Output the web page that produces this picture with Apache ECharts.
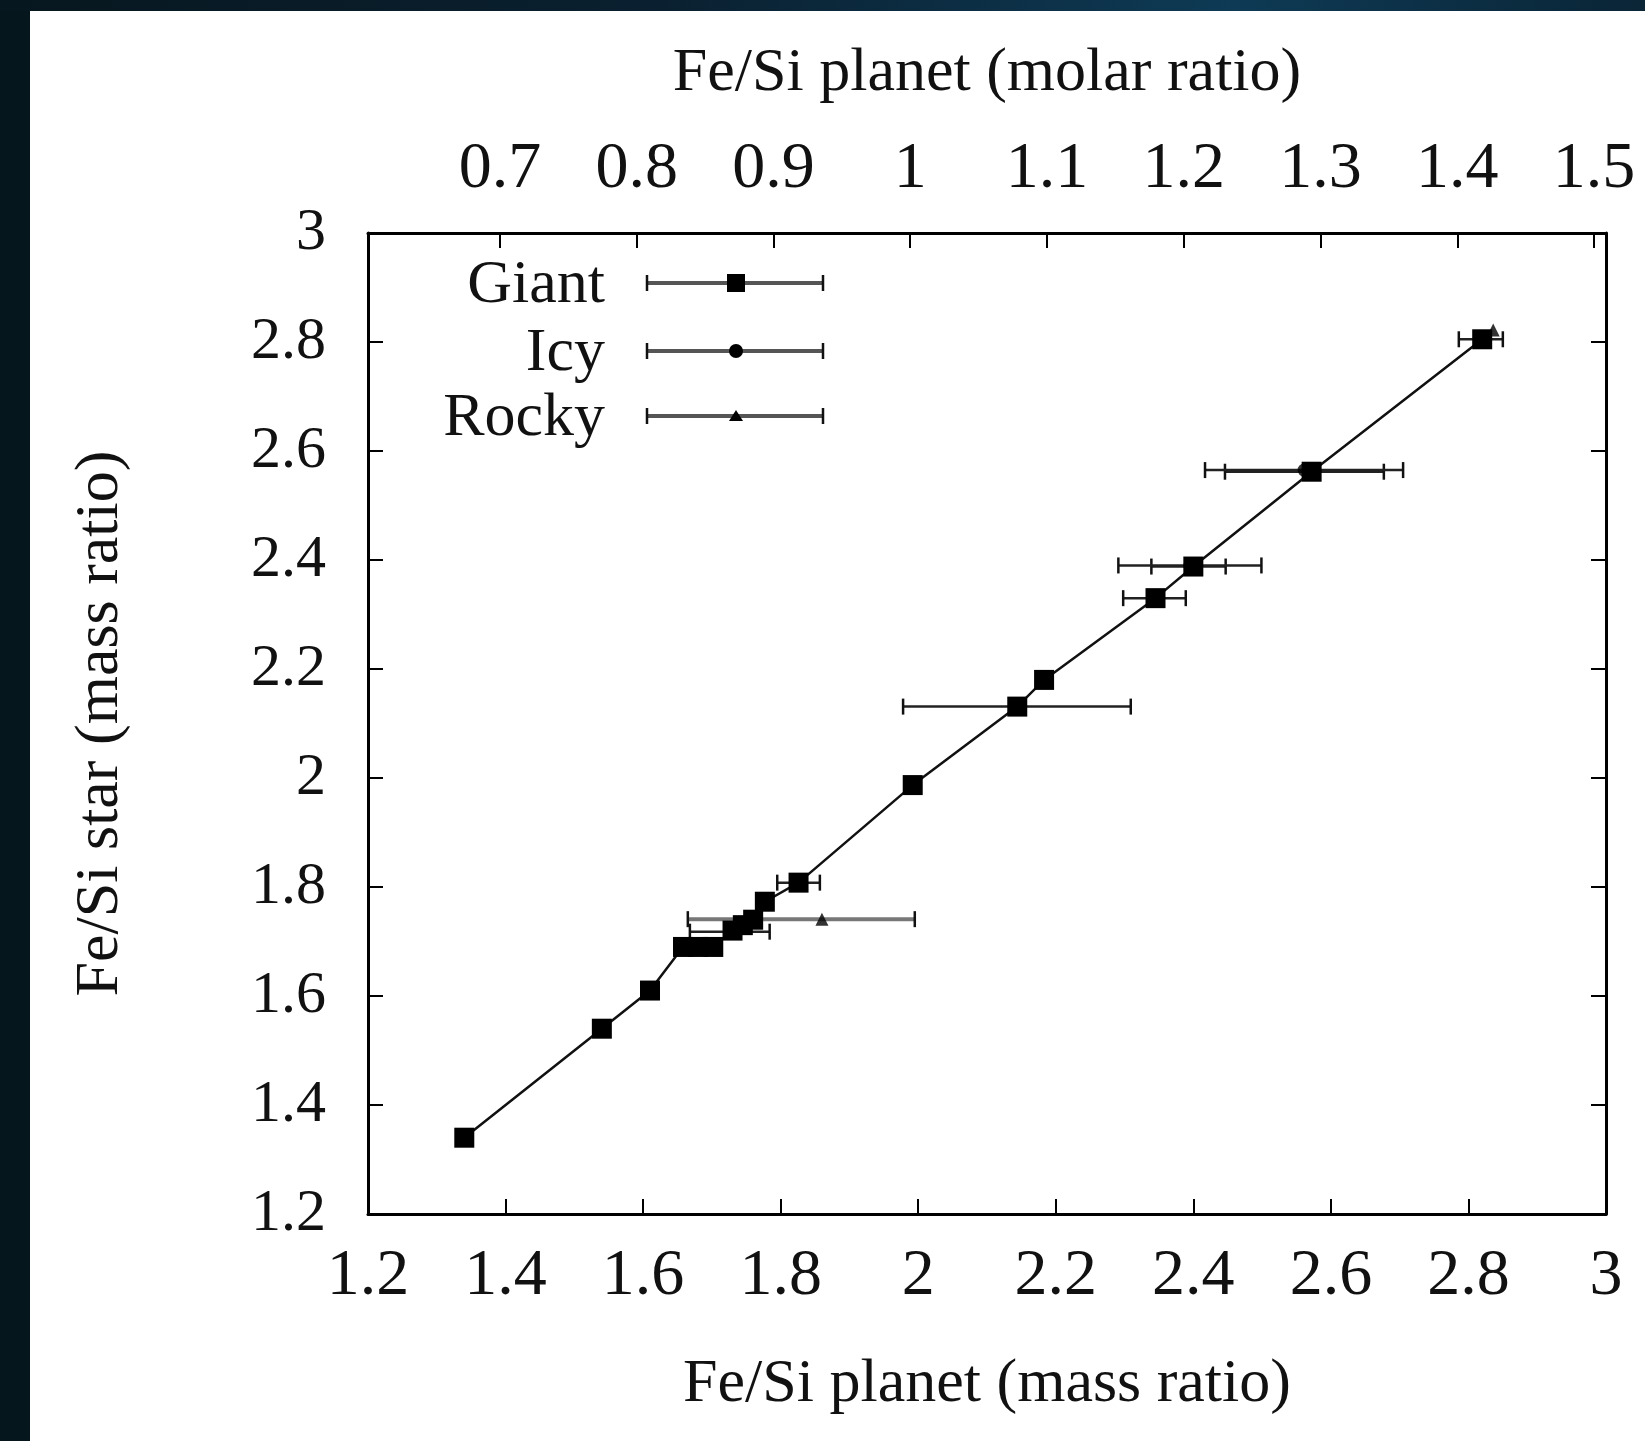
<!DOCTYPE html>
<html><head><meta charset="utf-8">
<script src="https://cdn.jsdelivr.net/npm/echarts@6/dist/echarts.min.js"></script>
<style>
html,body{margin:0;padding:0;width:1645px;height:1441px;overflow:hidden;background:#06161d;}
#topband{position:absolute;left:0;top:0;width:1645px;height:11px;background:linear-gradient(90deg,#07171f 0%,#0a2030 40%,#0e3a55 75%,#0a2536 100%);}
#panel{position:absolute;left:30px;top:11px;width:1615px;height:1430px;background:#fff;}
#chart{position:absolute;left:0;top:0;width:1645px;height:1441px;}
</style></head><body>
<div id="topband"></div><div id="panel"></div><div id="chart"></div>
<script>
// ---- data ----
const molarTicks = [0.7, 0.8, 0.9, 1.0, 1.1, 1.2, 1.3, 1.4, 1.5];
const SI_OVER_FE = 28.0855 / 55.845; // mass ratio -> molar ratio

const giantX  = [1.34, 1.54, 1.61, 1.658, 1.68, 1.702, 1.73, 1.745, 1.76, 1.777, 1.826, 1.992, 2.144, 2.183, 2.345, 2.40, 2.572, 2.82];
const giantY  = [1.34, 1.54, 1.61, 1.69, 1.69, 1.69, 1.72, 1.73, 1.74, 1.773, 1.808, 1.987, 2.131, 2.18, 2.33, 2.388, 2.562, 2.805];
const giantLo = [null, null, null, null, null, null, null, null, null, null, 1.795, null, 1.978, null, 2.298, 2.339, 2.446, 2.786];
const giantHi = [null, null, null, null, null, null, null, null, null, null, 1.857, null, 2.309, null, 2.389, 2.447, 2.677, 2.85];

const icyX  = [1.726, 2.395, 2.561];
const icyY  = [1.718, 2.39, 2.565];
const icyLo = [1.668, 2.291, 2.417];
const icyHi = [1.784, 2.499, 2.705];

const rockyX  = [1.86, 2.836];
const rockyY  = [1.741, 2.822];
const rockyLo = [1.665, null];
const rockyHi = [1.995, null];

const legendNames = ['Giant', 'Icy', 'Rocky'];
</script>
<script>
const FONT = '"Liberation Serif","Times New Roman",serif';
const chart = echarts.init(document.getElementById('chart'), null, {renderer:'canvas'});

function pairs(xs, ys){ return xs.map((x,i)=>[x, ys[i]]); }
function errRows(xs, ys, lo, hi){
  const out=[];
  xs.forEach((x,i)=>{ if(lo[i]!=null && hi[i]!=null) out.push([x, ys[i], lo[i], hi[i]]); });
  return out;
}
function errSeries(name, rows, color, width){
  return {
    type:'custom', name:name, data:rows, z:2, silent:true,
    encode:{x:[0,2,3], y:1},
    renderItem:function(params, api){
      const y=api.value(1), lo=api.value(2), hi=api.value(3);
      const p1=api.coord([lo,y]), p2=api.coord([hi,y]);
      const c=8;
      const st={stroke:color, lineWidth:width};
      return {type:'group', children:[
        {type:'line', shape:{x1:p1[0],y1:p1[1],x2:p2[0],y2:p2[1]}, style:st},
        {type:'line', shape:{x1:p1[0],y1:p1[1]-c,x2:p1[0],y2:p1[1]+c}, style:{stroke:'#111',lineWidth:2.5}},
        {type:'line', shape:{x1:p2[0],y1:p2[1]-c,x2:p2[0],y2:p2[1]+c}, style:{stroke:'#111',lineWidth:2.5}}
      ]};
    }
  };
}

const labelStyle = {fontFamily:FONT, color:'#111'};
const axisLineStyle = {show:true, lineStyle:{color:'#000', width:3}};
const tickStyle = {show:true, inside:true, length:15, lineStyle:{color:'#000', width:2}};
const fmt = v => String(Math.round(v*10)/10);

// legend layout (pixels)
const legX1=647, legX2=823, legM=736, capH=8;
const rows=[283,351,416];
const graphics=[];
rows.forEach((ry,i)=>{
  graphics.push({type:'text', x:605, y:ry+3, style:{text:legendNames[i], font:'62px '+FONT, fill:'#111', textAlign:'right', textVerticalAlign:'middle'}, z:10});
  graphics.push({type:'line', shape:{x1:legX1,y1:ry,x2:legX2,y2:ry}, style:{stroke:'#555',lineWidth:4}, z:10});
  graphics.push({type:'line', shape:{x1:legX1,y1:ry-capH,x2:legX1,y2:ry+capH}, style:{stroke:'#111',lineWidth:2.5}, z:10});
  graphics.push({type:'line', shape:{x1:legX2,y1:ry-capH,x2:legX2,y2:ry+capH}, style:{stroke:'#111',lineWidth:2.5}, z:10});
});
graphics.push({type:'rect', shape:{x:legM-9,y:rows[0]-9,width:18,height:18}, style:{fill:'#000'}, z:11});
graphics.push({type:'circle', shape:{cx:legM,cy:rows[1],r:7}, style:{fill:'#000'}, z:11});
graphics.push({type:'polygon', shape:{points:[[legM,rows[2]-6],[legM-7,rows[2]+5],[legM+7,rows[2]+5]]}, style:{fill:'#000'}, z:11});

const option = {
  backgroundColor:'transparent',
  animation:false,
  grid:{left:368, top:233, width:1238, height:981, containLabel:false},
  xAxis:[
    {type:'value', position:'bottom', min:1.2, max:3, interval:0.2,
     axisLine:axisLineStyle, axisTick:tickStyle, splitLine:{show:false},
     axisLabel:Object.assign({fontSize:66, margin:30, formatter:fmt}, labelStyle),
     name:'Fe/Si planet (mass ratio)', nameLocation:'middle', nameGap:140,
     nameTextStyle:{fontFamily:FONT, fontSize:62, color:'#111'}},
    {type:'value', position:'top', min:1.2*SI_OVER_FE, max:3*SI_OVER_FE,
     axisLine:axisLineStyle,
     axisTick:Object.assign({customValues:molarTicks}, tickStyle),
     splitLine:{show:false},
     axisLabel:Object.assign({fontSize:66, margin:30, formatter:fmt, customValues:molarTicks}, labelStyle),
     name:'Fe/Si planet (molar ratio)', nameLocation:'middle', nameGap:128,
     nameTextStyle:{fontFamily:FONT, fontSize:62, color:'#111'}}
  ],
  yAxis:[
    {type:'value', position:'left', min:1.2, max:3, interval:0.2,
     axisLine:axisLineStyle, axisTick:tickStyle, splitLine:{show:false},
     axisLabel:Object.assign({fontSize:60, margin:42, formatter:fmt}, labelStyle),
     name:'Fe/Si star (mass ratio)', nameLocation:'middle', nameGap:236, nameRotate:90,
     nameTextStyle:{fontFamily:FONT, fontSize:62, color:'#111'}},
    {type:'value', position:'right', min:1.2, max:3, interval:0.2,
     axisLine:axisLineStyle, axisTick:tickStyle, splitLine:{show:false},
     axisLabel:{show:false}}
  ],
  series:[
    errSeries('Giant err', errRows(giantX, giantY, giantLo, giantHi), '#222', 2.5),
    errSeries('Icy err', errRows(icyX, icyY, icyLo, icyHi), '#222', 2.5),
    errSeries('Rocky err', errRows(rockyX, rockyY, rockyLo, rockyHi), '#777', 4),
    {type:'line', name:'Giant', data:pairs(giantX, giantY), z:4,
     symbol:'rect', symbolSize:20, showAllSymbol:true,
     itemStyle:{color:'#000'}, lineStyle:{color:'#111', width:2.5}},
    {type:'scatter', name:'Icy', data:pairs(icyX, icyY), z:3,
     symbol:'circle', symbolSize:13, itemStyle:{color:'#000'}},
    {type:'scatter', name:'Rocky', data:pairs(rockyX, rockyY), z:3,
     symbol:'triangle', symbolSize:13, itemStyle:{color:'#000'}}
  ],
  graphic:graphics
};
chart.setOption(option);
</script>
</body></html>
